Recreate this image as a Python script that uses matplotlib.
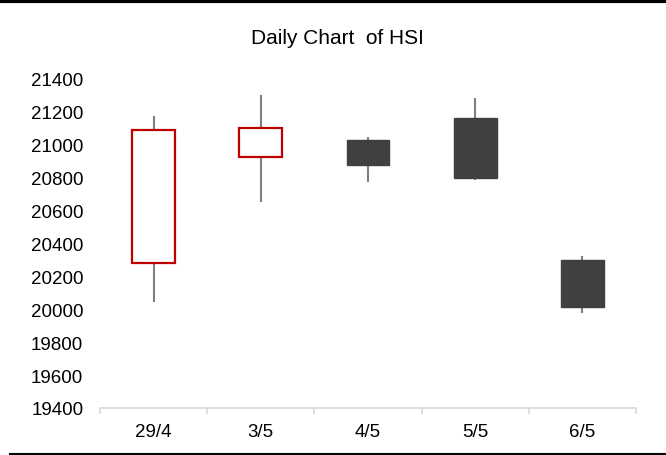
import matplotlib
matplotlib.use("Agg")
import matplotlib.pyplot as plt
from matplotlib.lines import Line2D

plt.rcParams['font.family'] = ['Liberation Sans', 'DejaVu Sans']

dates = ["29/4", "3/5", "4/5", "5/5", "6/5"]
opens = [20280, 20925, 21030, 21160, 20300]
closes = [21090, 21100, 20880, 20800, 20015]
highs = [21175, 21300, 21045, 21285, 20325]
lows = [20045, 20655, 20775, 20785, 19978]
y_ticks = list(range(19400, 21401, 200))
title = "Daily Chart  of HSI"

fig = plt.figure(figsize=(6.66, 4.56), dpi=100)
ax = fig.add_axes([100/666, 1 - 409/456, (636-100)/666, (409-80)/456])

x = list(range(len(dates)))
up_color = "#C00000"
down_color = "#404040"
wick_color = "#7F7F7F"
body_w = 0.4

for i in x:
    o, c, h, l = opens[i], closes[i], highs[i], lows[i]
    ax.vlines(i, l, h, color=wick_color, linewidth=1.5, zorder=1)
    bottom = min(o, c)
    height = abs(c - o)
    if c >= o:
        ax.bar(i, height, bottom=bottom, width=body_w, facecolor="white",
               edgecolor=up_color, linewidth=1.6, zorder=2)
    else:
        ax.bar(i, height, bottom=bottom, width=body_w, facecolor=down_color,
               edgecolor=down_color, linewidth=1, zorder=2)

ax.set_xlim(-0.5, len(dates) - 0.5)
ax.set_ylim(19400, 21400)
ax.set_yticks(y_ticks)
ax.set_yticklabels([str(v) for v in y_ticks])
ax.set_xticks([i - 0.5 for i in range(len(dates) + 1)])
ax.set_xticklabels([])
ax.set_xticks(x, minor=True)
ax.set_xticklabels(dates, minor=True)

for s in ["top", "right", "left"]:
    ax.spines[s].set_visible(False)
ax.spines["bottom"].set_color("#D9D9D9")
ax.spines["bottom"].set_linewidth(1.2)

ax.tick_params(axis="y", length=0, pad=12, labelsize=13.5, labelcolor="#000000")
ax.tick_params(axis="x", which="major", length=4, color="#D9D9D9", width=1.2, direction="out")
ax.tick_params(axis="x", which="minor", length=0, pad=11, labelsize=13.5, labelcolor="#000000")

fig.text(337.5/666, 1 - 38/456, title, ha="center", va="center", fontsize=15, color="#000000")

fig.add_artist(Line2D([0, 1], [1 - 1.5/456, 1 - 1.5/456], color="black", linewidth=3, transform=fig.transFigure))
fig.add_artist(Line2D([10/666, 1], [1 - 454.5/456, 1 - 454.5/456], color="black", linewidth=1.5, transform=fig.transFigure))

fig.savefig("out.png", dpi=100, facecolor="white")
